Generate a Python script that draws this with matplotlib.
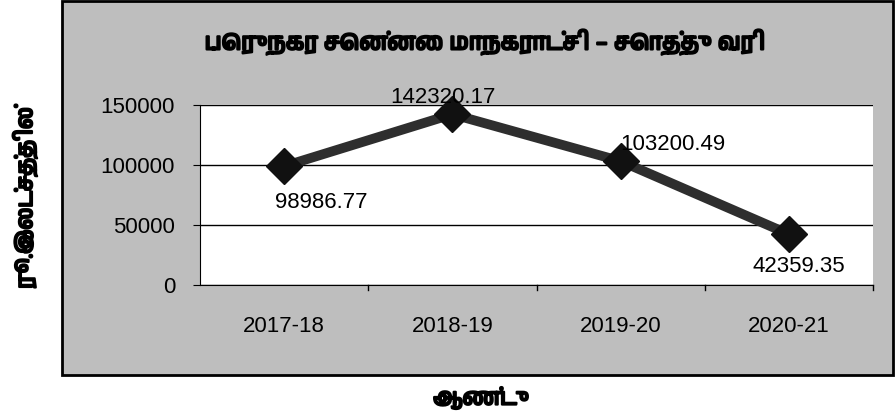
import matplotlib
matplotlib.use("Agg")
import matplotlib.pyplot as plt
from matplotlib import font_manager
from matplotlib.patches import Rectangle
import matplotlib.patheffects as pe

years = ["2017-18", "2018-19", "2019-20", "2020-21"]
values = [98986.77, 142320.17, 103200.49, 42359.35]
title = "பெருநகர சென்னை மாநகராட்சி – சொத்து வரி"
ylabel = "ரூ.இலட்சத்தில்"
xlabel = "ஆண்டு"
yticks = [0, 50000, 100000, 150000]

# find a font with Tamil glyphs if any is installed
tamil = None
for f in font_manager.fontManager.ttflist:
    if "tamil" in f.name.lower() or "lohit" in f.name.lower() or "latha" in f.name.lower():
        tamil = f.name
        break
tfam = [tamil, "DejaVu Sans"] if tamil else ["DejaVu Sans"]
num = ["Liberation Sans", "DejaVu Sans"]
bold = [pe.withStroke(linewidth=1.6, foreground="black")]

fig = plt.figure(figsize=(8.96, 4.2), dpi=100)
fig.patch.set_facecolor("white")
fig.patches.append(Rectangle((62/896, 45/420), (893-62)/896, (419-45)/420,
                             transform=fig.transFigure, facecolor="#bebebe",
                             edgecolor="black", linewidth=2, zorder=-5))

ax = fig.add_axes([200/896, (420-285)/420, (873-200)/896, 180/420])
ax.set_zorder(2)
ax.set_facecolor("white")
x = list(range(len(years)))
ax.plot(x, values, color="#2e2e2e", linewidth=7, marker="D", markersize=18,
        markerfacecolor="#111111", markeredgecolor="#111111", zorder=3, clip_on=False)
ax.set_xlim(-0.5, 3.5)
ax.set_ylim(0, 150000)
ax.set_yticks(yticks)
ax.set_yticklabels([str(v) for v in yticks], fontfamily=num, fontsize=16)
ax.set_xticks(x)
ax.set_xticklabels(years, fontfamily=num, fontsize=16)
ax.tick_params(axis="x", length=0, pad=22)
ax.tick_params(axis="y", length=5, direction="out", pad=13)
for xb in [0.5, 1.5, 2.5, 3.5]:
    ax.plot([xb, xb], [0, -4000], color="black", lw=1, clip_on=False)
ax.grid(axis="y", color="black", linewidth=1)
ax.set_axisbelow(True)
for s in ["top", "right"]:
    ax.spines[s].set_visible(False)
ax.spines["left"].set_color("black")
ax.spines["bottom"].set_color("black")

offsets = [(27, -26, "center"), (-7, 12, "center"),
           (0, 12, "left"), (7, -23, "center")]
for xi, v, (dx, dy, ha) in zip(x, values, offsets):
    ax.annotate(f"{v:.2f}", (xi, v), xytext=(dx, dy), textcoords="offset points",
                ha=ha, va="center", fontsize=16, fontfamily=num, zorder=4,
                annotation_clip=False)

fig.text(485/896, (420-42)/420, title, ha="center", va="center", fontsize=16.5,
         fontweight="bold", family=tfam, path_effects=bold)
fig.text(25/896, (420-198)/420, ylabel, ha="center", va="center", rotation=90,
         fontsize=16, fontweight="bold", family=tfam, path_effects=bold)
fig.text(481/896, (420-398)/420, xlabel, ha="center", va="center", fontsize=16,
         fontweight="bold", family=tfam, path_effects=bold)

fig.savefig("out.png", dpi=100)
